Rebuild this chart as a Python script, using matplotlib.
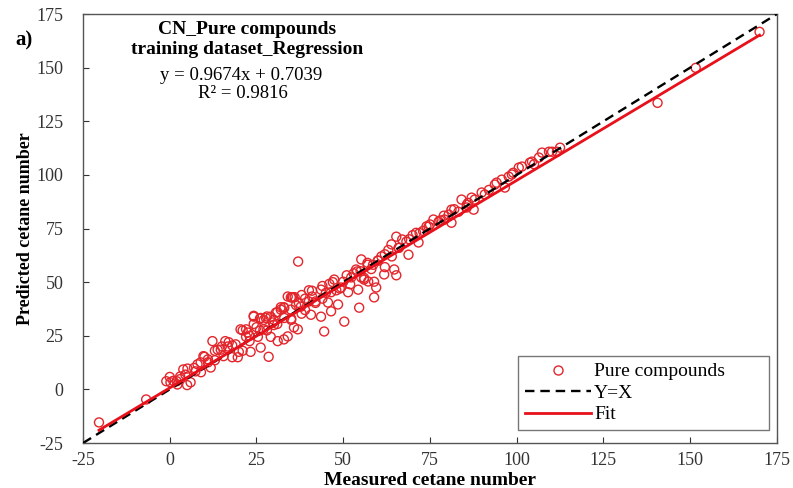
import matplotlib
matplotlib.use("Agg")
import matplotlib.pyplot as plt
from matplotlib.lines import Line2D
import numpy as np

plt.rcParams['font.family'] = ['Liberation Serif', 'DejaVu Serif']
plt.rcParams['axes.unicode_minus'] = False

# Measured vs predicted cetane numbers
measured = [
    -20.4, -6.8, -1.0, 0.0, 0.2, 2.0, 2.2, 3.0, 3.9, 4.5, 5.1, 6.0, 7.4, 8.0, 8.9, 9.7,
    10.0, 11.0, 11.8, 12.3, 13.0, 13.8, 14.7, 15.5, 16.0, 16.7, 18.0, 19.6, 19.9, 20.4,
    21.0, 22.0, 22.5, 23.0, 23.3, 24.2, 24.2, 24.2, 25.4, 26.0, 26.2, 26.2, 27.1, 27.7,
    28.0, 28.5, 29.1, 29.1, 29.7, 30.0, 30.6, 31.0, 31.1, 32.0, 32.0, 32.9, 32.9, 33.0,
    34.0, 34.0, 34.9, 34.9, 35.0, 35.2, 35.5, 35.8, 36.4, 36.9, 37.0, 37.2, 37.8, 38.0,
    39.0, 40.1, 40.1, 40.7, 41.0, 42.0, 43.6, 43.6, 44.0, 44.0, 44.5, 45.6, 46.0, 46.5,
    46.5, 47.4, 48.0, 48.5, 49.4, 50.0, 50.3, 51.0, 51.4, 52.3, 53.0, 53.7, 54.3, 54.6,
    55.0, 55.2, 55.2, 56.0, 57.0, 57.2, 58.1, 58.6, 58.9, 58.9, 59.5, 60.0, 61.0, 61.8,
    62.0, 63.0, 63.9, 64.7, 65.3, 65.3, 66.0, 67.0, 68.2, 68.8, 70.0, 71.7, 72.0, 73.0,
    74.6, 75.0, 76.0, 77.5, 78.0, 79.2, 80.4, 81.2, 81.2, 83.2, 84.1, 85.6, 85.6, 87.0,
    87.6, 87.9, 89.9, 90.8, 93.7, 94.2, 95.7, 96.6, 97.7, 98.6, 100.6, 101.5, 103.8,
    104.4, 106.4, 107.3, 109.3, 110.2, 111.6, 112.5, 140.6, 151.6, 170.0,
    1.0, 3.0, 5.0, 7.0, 9.0, 11.0, 13.0, 15.0, 17.0, 18.0, 19.0, 21.0, 22.0, 23.0,
    25.0, 26.0, 27.0, 28.0, 30.0, 31.0, 33.0, 35.0, 36.0, 38.0, 39.0, 41.0, 42.0, 45.0,
    47.0, 49.0, 52.0, 54.0, 56.0, 57.0, 60.0, 62.0, 64.0, 66.0, 69.0, 71.0, 74.0, 79.0,
    82.0, 86.0, 92.0, 99.0, 105.0,
]
predicted = [
    -15.4, -4.7, 3.8, 5.8, 3.3, 3.8, 2.3, 4.8, 9.3, 6.9, 9.7, 3.3, 8.4, 11.7, 12.6, 15.5,
    15.2, 12.6, 10.2, 22.5, 13.6, 18.5, 18.5, 15.5, 22.5, 20.0, 20.5, 15.0, 17.5, 28.0,
    27.5, 24.5, 26.5, 22.5, 17.5, 34.3, 30.5, 33.9, 24.5, 27.5, 19.5, 33.3, 32.4, 33.3,
    27.5, 15.2, 33.9, 24.5, 31.2, 32.4, 35.8, 30.5, 22.5, 38.3, 37.2, 38.3, 23.3, 33.3,
    24.7, 43.3, 42.9, 37.2, 32.4, 42.9, 42.9, 28.9, 39.3, 28.0, 59.6, 40.3, 38.6, 35.3,
    42.3, 46.2, 41.0, 34.8, 43.3, 40.3, 33.9, 46.5, 42.3, 48.2, 27.0, 40.5, 49.2, 36.4,
    45.3, 51.2, 46.2, 39.6, 47.5, 50.2, 31.6, 53.2, 45.3, 52.2, 54.1, 55.9, 46.5, 38.1,
    55.1, 52.2, 60.6, 51.2, 58.1, 50.3, 56.1, 58.1, 42.9, 50.2, 47.5, 60.1, 62.0, 53.6,
    63.0, 65.0, 67.6, 55.9, 71.2, 53.2, 66.0, 69.9, 68.9, 62.8, 71.9, 68.5, 72.9, 73.9,
    75.9, 76.9, 79.2, 78.2, 78.8, 79.2, 81.5, 77.7, 83.8, 82.8, 88.5, 86.1, 84.8, 89.4,
    83.8, 88.5, 91.8, 90.9, 95.5, 96.4, 97.8, 94.1, 99.2, 100.2, 103.4, 103.9, 105.7,
    106.2, 108.1, 110.4, 110.8, 110.8, 110.8, 112.7, 133.6, 149.9, 166.7,
    4.0, 6.0, 2.0, 10.0, 8.0, 14.0, 18.0, 20.0, 22.0, 15.0, 21.0, 18.0, 28.0, 25.0,
    29.0, 33.0, 28.0, 34.0, 30.0, 36.0, 38.0, 33.0, 43.0, 44.0, 37.0, 46.0, 41.0, 45.0,
    50.0, 47.0, 49.0, 55.0, 52.0, 59.0, 60.0, 57.0, 62.0, 66.0, 70.0, 73.0, 76.0, 81.0,
    84.0, 87.0, 93.0, 101.0, 105.0,
]

slope = 0.9674
intercept = 0.7039
axis_ticks = [-25, 0, 25, 50, 75, 100, 125, 150, 175]

fig = plt.figure(figsize=(7.93, 4.88), dpi=100)
ax = fig.add_axes([0.1047, 0.0922, 0.875, 0.879])

ax.scatter(measured, predicted, s=42, facecolors='none', edgecolors='#e3262c',
           linewidths=1.0, zorder=3)
ax.plot([-25, 175], [-25, 175], linestyle=(0, (4, 2.5)), color='black', lw=1.7, zorder=4)
xf = np.array([min(measured), max(measured)])
ax.plot(xf, slope * xf + intercept, color='#e8101a', lw=2.0, zorder=5)

ax.set_xlim(-25, 175)
ax.set_ylim(-25, 175)
ax.set_xticks(axis_ticks)
ax.set_yticks(axis_ticks)
ax.tick_params(direction='in', length=4, labelsize=13, colors='#333333', top=False, right=False)
ax.tick_params(axis='x', pad=6.5)
ax.tick_params(axis='y', pad=14)
for sp in ax.spines.values():
    sp.set_color('#555555')
    sp.set_linewidth(1.0)

ax.set_xlabel('Measured cetane number', fontsize=14, fontweight='bold', labelpad=2)
ax.set_ylabel('Predicted cetane number', fontsize=13, fontweight='bold', labelpad=2)

ax.text(0.236, 0.963, 'CN_Pure compounds', transform=ax.transAxes,
        ha='center', va='center', fontsize=14, fontweight='bold')
ax.text(0.236, 0.918, 'training dataset_Regression', transform=ax.transAxes,
        ha='center', va='center', fontsize=14, fontweight='bold')
ax.text(0.228, 0.856, 'y = 0.9674x + 0.7039', transform=ax.transAxes,
        ha='center', va='center', fontsize=13.5)
ax.text(0.230, 0.815, 'R² = 0.9816', transform=ax.transAxes,
        ha='center', va='center', fontsize=13.5)
fig.text(0.019, 0.918, 'a)', fontsize=15, fontweight='bold', va='center')

handles = [
    Line2D([], [], marker='o', linestyle='none', markerfacecolor='none',
           markeredgecolor='#e3262c', markersize=6.5),
    Line2D([], [], color='black', linestyle=(0, (4, 2.5)), lw=1.7),
    Line2D([], [], color='#e8101a', lw=2.0),
]
leg = ax.legend(handles, ['Pure compounds', 'Y=X', 'Fit'], loc='lower left',
                bbox_to_anchor=(0.627, 0.030, 0.362, 0.168), mode='expand',
                borderaxespad=0, fontsize=14, frameon=True, fancybox=False,
                edgecolor='#555555', handlelength=3.4, handletextpad=0.15,
                labelspacing=0.2, borderpad=0.35)
leg.get_frame().set_linewidth(1.0)

fig.savefig('out.png', dpi=100)
